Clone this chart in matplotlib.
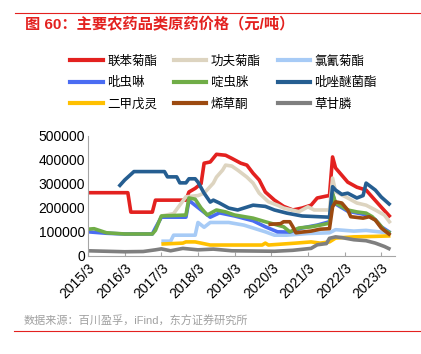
import matplotlib
matplotlib.use("Agg")
import matplotlib.pyplot as plt
import pandas as pd
from matplotlib.lines import Line2D

plt.rcParams["font.family"] = ["Liberation Sans", "Noto Sans CJK SC", "DejaVu Sans"]

# 联苯菊酯
red_dates = ["2015-03", "2016-04", "2016-05", "2016-12", "2017-01", "2017-11", "2017-12",
             "2018-02", "2018-04", "2018-05", "2018-07", "2018-09", "2018-12", "2019-02",
             "2019-05", "2019-07", "2019-09", "2019-11", "2020-01", "2020-04", "2020-07",
             "2020-10", "2021-01", "2021-04", "2021-06", "2021-09", "2021-10", "2021-11",
             "2021-12", "2022-04", "2022-07", "2022-10", "2022-12", "2023-03", "2023-06"]
red_vals = [262000, 262000, 181000, 181000, 231000, 231000, 265000,
            280000, 300000, 385000, 390000, 422000, 418000, 405000,
            385000, 377000, 343000, 315000, 265000, 231000, 205000,
            190000, 198000, 210000, 240000, 248000, 250000, 411000,
            365000, 306000, 285000, 273000, 244000, 202000, 160000]

# 功夫菊酯
beige_dates = ["2017-03", "2017-07", "2017-11", "2018-03", "2018-05", "2018-08", "2018-09",
               "2018-11", "2018-12", "2019-02", "2019-04", "2019-07", "2019-09", "2019-11",
               "2020-02", "2020-05", "2020-07", "2020-12", "2021-03", "2021-05", "2021-10",
               "2021-11", "2021-12", "2022-04", "2022-07", "2022-10", "2023-01", "2023-04",
               "2023-06"]
beige_vals = [165000, 175000, 245000, 250000, 260000, 302000, 327000,
              356000, 377000, 373000, 356000, 327000, 302000, 260000,
              224000, 210000, 198000, 183000, 203000, 190000, 190000,
              323000, 266000, 240000, 219000, 210000, 190000, 169000,
              135000]

# 氯氰菊酯
lblue_dates = ["2017-03", "2017-06", "2017-07", "2018-02", "2018-03", "2018-05", "2018-07",
               "2019-01", "2019-06", "2019-09", "2020-01", "2020-04", "2020-08", "2021-03",
               "2021-10", "2021-12", "2022-06", "2022-10", "2023-03", "2023-06"]
lblue_vals = [60000, 60000, 85000, 85000, 138000, 118000, 138000,
              138000, 127000, 115000, 99000, 85000, 85000, 92000,
              95000, 108000, 102000, 105000, 98000, 92000]

# 吡虫啉
blue_dates = ["2015-03", "2015-09", "2016-03", "2016-12", "2017-01", "2017-03", "2017-11",
              "2017-12", "2018-04", "2018-07", "2018-10", "2019-03", "2019-09", "2020-01",
              "2020-05", "2020-09", "2021-01", "2021-06", "2021-10", "2021-11", "2021-12",
              "2022-04", "2022-10", "2023-01", "2023-03", "2023-06"]
blue_vals = [99000, 93000, 90000, 90000, 115000, 160000, 160000,
             230000, 190000, 160000, 178000, 165000, 145000, 120000,
             99000, 98000, 115000, 127000, 141000, 255000, 215000,
             185000, 170000, 150000, 120000, 95000]

# 啶虫脒
green_dates = ["2015-03", "2015-05", "2015-09", "2016-03", "2016-12", "2017-01", "2017-03",
               "2017-11", "2017-12", "2018-02", "2018-04", "2018-06", "2018-09", "2018-12",
               "2019-03", "2019-09", "2020-01", "2020-07", "2020-09", "2020-12", "2021-04",
               "2021-07", "2021-10", "2021-11", "2021-12", "2022-04", "2022-07", "2022-10",
               "2022-12", "2023-02", "2023-04", "2023-06"]
green_vals = [110000, 112000, 95000, 90000, 90000, 105000, 165000,
              169000, 240000, 235000, 198000, 169000, 190000, 182000,
              169000, 156000, 141000, 120000, 99000, 115000, 120000,
              127000, 135000, 260000, 219000, 190000, 182000, 177000,
              162000, 135000, 106000, 94000]

# 吡唑醚菌酯
navy_dates = ["2016-01", "2016-03", "2016-06", "2017-04", "2017-05", "2017-08", "2017-09",
              "2017-11", "2017-12", "2018-02", "2018-03", "2018-05", "2018-07", "2018-08",
              "2018-10", "2019-01", "2019-04", "2019-09", "2020-01", "2020-04", "2020-08",
              "2021-01", "2021-10", "2021-11", "2021-12", "2022-02", "2022-04", "2022-07",
              "2022-09", "2022-10", "2023-01", "2023-03", "2023-06"]
navy_vals = [287000, 315000, 350000, 350000, 328000, 328000, 303000,
             303000, 320000, 320000, 306000, 260000, 223000, 231000,
             219000, 198000, 190000, 210000, 205000, 190000, 177000,
             165000, 160000, 287000, 273000, 255000, 260000, 240000,
             250000, 302000, 273000, 244000, 210000]

# 二甲戊灵
yellow_dates = ["2017-03", "2017-10", "2017-11", "2018-02", "2018-04", "2018-07", "2019-12",
                "2020-01", "2020-02", "2020-11", "2021-04", "2021-07", "2021-10", "2021-12",
                "2022-06", "2023-01", "2023-06"]
yellow_vals = [48000, 52000, 57000, 57000, 52000, 44000, 44000,
               52000, 44000, 52000, 57000, 52000, 57000, 73000,
               78000, 80000, 82000]

# 烯草酮
brown_dates = ["2020-02", "2020-06", "2020-07", "2020-09", "2020-10", "2020-11", "2021-01",
               "2021-04", "2021-07", "2021-10", "2021-11", "2021-12", "2022-02", "2022-04",
               "2022-05", "2022-09", "2022-11", "2023-01", "2023-03", "2023-06"]
brown_vals = [130000, 133000, 141000, 141000, 120000, 95000, 98000,
              102000, 110000, 112000, 203000, 224000, 219000, 190000,
              162000, 156000, 162000, 148000, 115000, 85000]

# 草甘膦
gray_dates = ["2015-03", "2015-09", "2016-03", "2016-09", "2017-01", "2017-03", "2017-06",
              "2017-10", "2018-03", "2018-08", "2019-02", "2020-04", "2020-10", "2021-04",
              "2021-06", "2021-09", "2021-10", "2021-12", "2022-02", "2022-06", "2022-10",
              "2023-01", "2023-04", "2023-06"]
gray_vals = [20000, 18000, 16000, 17000, 24000, 28000, 20000,
             30000, 24000, 27000, 20000, 18000, 22000, 30000,
             45000, 50000, 72000, 78000, 75000, 66000, 62000,
             52000, 38000, 26000]

names = ["联苯菊酯", "功夫菊酯", "氯氰菊酯", "吡虫啉", "啶虫脒", "吡唑醚菌酯", "二甲戊灵", "烯草酮", "草甘膦"]
colors = ["#E3211F", "#DDD4C0", "#A7CBF6", "#4A6CF2", "#70AD47", "#255E91", "#FFC000", "#9C4A10", "#7F7F7F"]
series = [(red_dates, red_vals), (beige_dates, beige_vals), (lblue_dates, lblue_vals),
          (blue_dates, blue_vals), (green_dates, green_vals), (navy_dates, navy_vals),
          (yellow_dates, yellow_vals), (brown_dates, brown_vals), (gray_dates, gray_vals)]

tick_labels = ["2015/3", "2016/3", "2017/3", "2018/3", "2019/3", "2020/3", "2021/3", "2022/3", "2023/3"]

fig = plt.figure(figsize=(4.21, 3.54), dpi=100)
ax = fig.add_axes([0.209, 0.278, 0.729, 0.339])

for (d, v), c, n in zip(series, colors, names):
    ax.plot(pd.to_datetime(d), v, color=c, lw=2.6, label=n, solid_capstyle="butt")

ax.set_ylim(0, 500000)
ax.set_yticks(range(0, 500001, 100000))
ax.set_xlim(pd.Timestamp("2015-03-01"), pd.Timestamp("2023-07-15"))
ticks = pd.to_datetime([t.replace("/", "-") for t in tick_labels])
ax.set_xticks(ticks)
ax.set_xticklabels(tick_labels, rotation=45, ha="right", rotation_mode="anchor")

for s in ["top", "right"]:
    ax.spines[s].set_visible(False)
for s in ["left", "bottom"]:
    ax.spines[s].set_color("#A6A6A6")
    ax.spines[s].set_linewidth(0.8)
ax.tick_params(axis="y", length=0, labelsize=10, pad=2)
ax.tick_params(axis="x", direction="in", length=3, color="#A6A6A6", labelsize=10, pad=4)

# legend is filled row by row in the reference, matplotlib fills by column
order = [0, 3, 6, 1, 4, 7, 2, 5, 8]
handles = [Line2D([], [], color=colors[i], lw=3) for i in order]
labels = [names[i] for i in order]
fig.legend(handles, labels, ncol=3, loc="center", bbox_to_anchor=(0.531, 0.765),
           frameon=False, fontsize=9, handlelength=2.6, handletextpad=0.35,
           columnspacing=1.35, labelspacing=0.75)

fig.text(0.059, 0.93, "图 60：主要农药品类原药价格（元/吨）", color="#E3211F",
         fontsize=11, fontweight="bold", va="center")
fig.text(0.057, 0.093, "数据来源：百川盈孚，iFind，东方证券研究所", color="#A0A0A0",
         fontsize=8, va="center")
fig.add_artist(Line2D([0.036, 1.0], [0.963, 0.963], color="#E3211F", lw=0.8))
fig.add_artist(Line2D([0.033, 1.0], [0.065, 0.065], color="#E3211F", lw=0.8))

fig.savefig("out.png", dpi=100)
